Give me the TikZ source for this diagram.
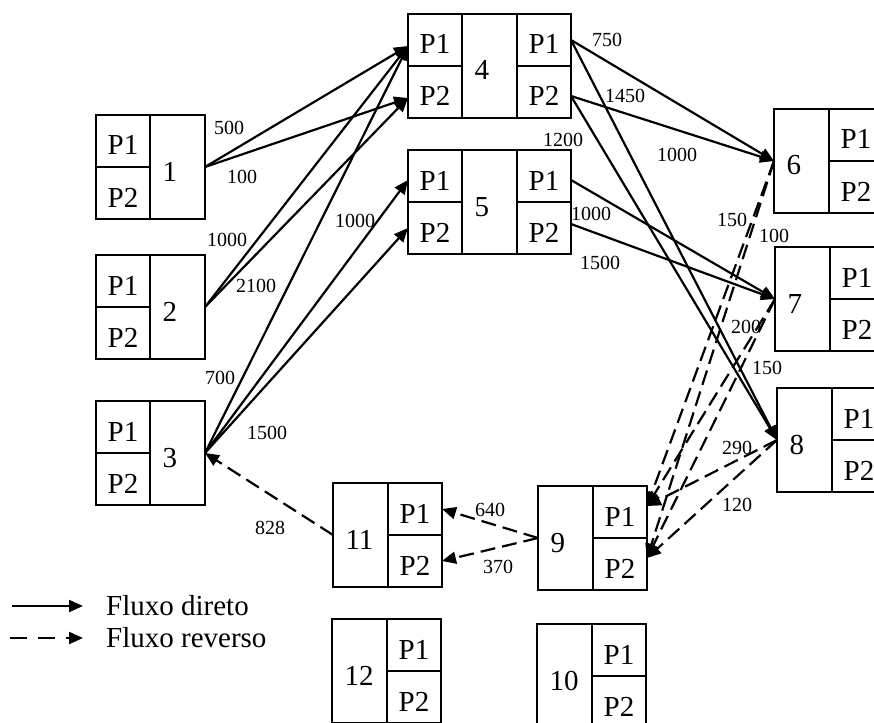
\documentclass[tikz,border=0pt]{standalone}
\usepackage{fontspec}
\setmainfont{Liberation Serif}
\usetikzlibrary{arrows.meta}

% Box with P1/P2 on the left and the number on the right
\newcommand\pnbox[4]{%
  \node[pcell,anchor=north west] (#1a) at (#2,#3) {P1};
  \node[pcell,anchor=north west] (#1b) at (#1a.south west) {P2};
  \node[ncell,anchor=north west] (#1) at (#1a.north east) {#4};}
% Box with P1/P2 on both sides of the number
\newcommand\pnpbox[4]{%
  \pnbox{#1}{#2}{#3}{#4}%
  \node[pcell,anchor=north west] (#1c) at (#1.north east) {P1};
  \node[pcell,anchor=north west] (#1d) at (#1c.south west) {P2};}
% Box with the number on the left and P1/P2 on the right
\newcommand\npbox[4]{%
  \node[ncell,anchor=north west] (#1) at (#2,#3) {#4};
  \node[pcell,anchor=north west] (#1c) at (#1.north east) {P1};
  \node[pcell,anchor=north west] (#1d) at (#1c.south west) {P2};}

\begin{document}
\begin{tikzpicture}[x=1pt,y=-1pt,
  cell/.style={draw, line width=2pt, inner sep=0pt, outer sep=0pt,
    font=\fontsize{29}{30}\selectfont, text height=28pt, text depth=0pt},
  pcell/.style={cell, minimum width=54pt, minimum height=52pt},
  ncell/.style={cell, minimum width=55pt, minimum height=104pt,
    text width=30pt, align=left},
  qty/.style={font=\fontsize{20}{21}\selectfont, inner sep=0pt},
  legtxt/.style={font=\fontsize{29}{30}\selectfont, inner sep=0pt},
  flow/.style={line width=2.2pt, -{Triangle[length=14pt,width=12pt]}},
  direto/.style={flow},
  reverso/.style={flow, dash pattern=on 15pt off 7pt},
  legdash/.style={flow, dash pattern=on 17pt off 11pt},
]
\useasboundingbox (0,0) rectangle (874,722);
\clip (0,0) rectangle (874,722);

% boxes
\pnbox{n1}{96}{115}{1}
\pnbox{n2}{96}{255}{2}
\pnbox{n3}{96}{401}{3}
\pnpbox{n4}{408}{14}{4}
\pnpbox{n5}{408}{150}{5}
\npbox{n6}{774}{109}{6}
\npbox{n7}{775}{247}{7}
\npbox{n8}{777}{388}{8}
\npbox{n9}{538}{486}{9}
\npbox{n11}{333}{483}{11}
\npbox{n12}{332}{619}{12}
\npbox{n10}{537}{624}{10}

% direct flows
\draw[direto] (n1.east) -- ([yshift=-6pt]n4a.west);
\draw[direto] (n1.east) -- ([yshift=-6pt]n4b.west);
\draw[direto] (n2.east) -- ([yshift=-6pt]n4a.west);
\draw[direto] (n2.east) -- ([yshift=-6pt]n4b.west);
\draw[direto] (n3.east) -- ([yshift=-6pt]n4a.west);
\draw[direto] (n3.east) -- ([yshift=-4pt]n5a.west);
\draw[direto] (n3.east) -- (n5b.west);
\draw[direto] (n4c.east) -- (n6.west);
\draw[direto] ([yshift=-4pt]n4d.east) -- (n6.west);
\draw[direto] (n4c.east) -- (n8.west);
\draw[direto] ([yshift=-4pt]n4d.east) -- (n8.west);
\draw[direto] ([yshift=-4pt]n5c.east) -- (n7.west);
\draw[direto] ([yshift=4pt]n5d.east) -- (n7.west);

% reverse flows
\draw[reverso] (n6.west) -- ([yshift=6pt]n9c.east);
\draw[reverso] (n6.west) -- ([yshift=6pt]n9d.east);
\draw[reverso] (n7.west) -- ([yshift=6pt]n9c.east);
\draw[reverso] (n7.west) -- ([yshift=6pt]n9d.east);
\draw[reverso] (n8.west) -- ([yshift=6pt]n9c.east);
\draw[reverso] (n8.west) -- ([yshift=6pt]n9d.east);
\draw[reverso] (n9.west) -- (n11c.east);
\draw[reverso] (n9.west) -- (n11d.east);
\draw[reverso] (n11.west) -- (n3.east);

% quantities
\node[qty] (q1) at (229,128) {500};
\node[qty] (q2) at (242,177) {100};
\node[qty] (q3) at (227,240) {1000};
\node[qty] (q4) at (256,286) {2100};
\node[qty] (q5) at (220,378) {700};
\node[qty] (q6) at (267,433) {1500};
\node[qty] (q7) at (355,221) {1000};
\node[qty] (q8) at (607,40) {750};
\node[qty] (q9) at (625,96) {1450};
\node[qty] (q10) at (563,140) {1200};
\node[qty] (q11) at (677,155) {1000};
\node[qty] (q12) at (591,214) {1000};
\node[qty] (q13) at (600,263) {1500};
\node[qty] (q14) at (732,220) {150};
\node[qty] (q15) at (774,236) {100};
\node[qty] (q16) at (746,327) {200};
\node[qty] (q17) at (767,368) {150};
\node[qty] (q18) at (737,448) {290};
\node[qty] (q19) at (737,505) {120};
\node[qty] (q20) at (490,510) {640};
\node[qty] (q21) at (498,567) {370};
\node[qty] (q22) at (270,528) {828};

% legend
\node[legtxt,anchor=west] (lt1) at (106,606) {Fluxo direto};
\node[legtxt,anchor=west] (lt2) at (106,638) {Fluxo reverso};
\coordinate (ls1) at (12,606);
\coordinate (ls2) at (10,638);
\draw[direto] (ls1) -- ([xshift=-23pt]lt1.west);
\draw[legdash] (ls2) -- ([xshift=-23pt]lt2.west);
\end{tikzpicture}
\end{document}
